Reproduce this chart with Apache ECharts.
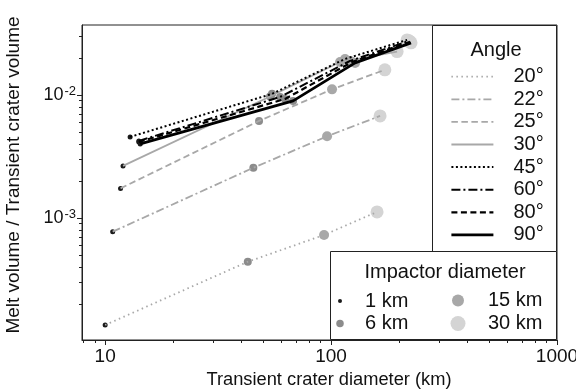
<!DOCTYPE html>
<html>
<head>
<meta charset="utf-8">
<script src="https://cdn.jsdelivr.net/npm/echarts@6/dist/echarts.min.js"></script>
<style>
  * { margin: 0; padding: 0; }
  body { background: #fff; }
  #chart { width: 576px; height: 391px; }
</style>
</head>
<body>
<div id="chart"></div>
<script>
// impact angles and impactor diameters
const angles = [20, 22, 25, 30, 45, 60, 80, 90];
const impactorNames = ['1 km', '6 km', '15 km', '30 km'];

// transient crater diameter (km), one value per impactor size
const diam20 = [10.0, 42.8, 93.1, 159.8];
const diam22 = [10.8, 45.3, 96.0, 164.8];
const diam25 = [11.7, 48.0, 101, 173];
const diam30 = [12.0, 53.7, 109.6, 196];
const diam45 = [12.9, 54.8, 115.3, 217];
const diam60 = [14.1, 59.5, 121.4, 221.5];
const diam80 = [14.1, 62.6, 123.9, 223.7];
const diam90 = [14.3, 67.9, 127.7, 225.9];

// melt volume / transient crater volume
const ratio20 = [1.35e-4, 4.41e-4, 7.28e-4, 1.12e-3];
const ratio22 = [7.74e-4, 2.56e-3, 4.61e-3, 6.75e-3];
const ratio25 = [1.74e-3, 6.15e-3, 1.11e-2, 1.60e-2];
const ratio30 = [2.65e-3, 9.72e-3, 1.85e-2, 2.25e-2];
const ratio45 = [4.56e-3, 1.02e-2, 1.96e-2, 2.80e-2];
const ratio60 = [4.23e-3, 9.63e-3, 1.89e-2, 2.75e-2];
const ratio80 = [4.15e-3, 9.28e-3, 1.85e-2, 2.70e-2];
const ratio90 = [4.00e-3, 8.94e-3, 1.82e-2, 2.65e-2];

// axis ticks
const xMajorTicks = [10, 100, 1000];
const xMinorTicks = [8, 9, 20, 30, 40, 50, 60, 70, 80, 90, 200, 300, 400, 500, 600, 700, 800, 900];
const yMajorTicks = [0.001, 0.01];
const yMinorTicks = [0.0002, 0.0003, 0.0004, 0.0005, 0.0006, 0.0007, 0.0008, 0.0009,
  0.002, 0.003, 0.004, 0.005, 0.006, 0.007, 0.008, 0.009, 0.02, 0.03];

const diamByAngle = [diam20, diam22, diam25, diam30, diam45, diam60, diam80, diam90];
const ratioByAngle = [ratio20, ratio22, ratio25, ratio30, ratio45, ratio60, ratio80, ratio90];

const FONT = '"Liberation Sans", Arial, Helvetica, sans-serif';
const INK = '#111';
const LIGHT = '#a8a8a8';

const X_MIN = 7.9, X_MAX = 1000;
const Y_MIN = 1.02e-4, Y_MAX = 0.037;

// line style per angle (grey for shallow, black for steep)
const angleStyles = [
  { color: LIGHT, width: 1.8, type: [1.5, 3.5] },
  { color: LIGHT, width: 1.8, type: [8, 3, 2, 3] },
  { color: LIGHT, width: 1.8, type: [6.5, 3.5] },
  { color: LIGHT, width: 1.8, type: 'solid' },
  { color: '#000', width: 2, type: [2, 2.5] },
  { color: '#000', width: 2, type: [9, 3, 2, 3] },
  { color: '#000', width: 2.2, type: [6, 3.5] },
  { color: '#000', width: 2.8, type: 'solid' },
];

// marker style per impactor size
const markerColors = ['#1a1a1a', '#8c8c8c', '#a8a8a8', '#d4d4d4'];
const markerSizes = [5, 8, 10, 13];
const legendSizes = [4, 7.5, 12, 15];
const legendCenters = [[340, 301], [340, 323.5], [458, 300.5], [458, 323.5]];
const legendPads = [10, 10, 15, 15];

const chart = echarts.init(document.getElementById('chart'), null, { renderer: 'canvas' });

const lineSeries = angles.map((a, k) => ({
  name: a + '°',
  type: 'line',
  data: diamByAngle[k].map((d, i) => [d, ratioByAngle[k][i]]),
  symbol: 'none',
  itemStyle: { color: angleStyles[k].color },
  lineStyle: angleStyles[k],
  z: 3,
}));

const scatterSeries = impactorNames.map((name, i) => ({
  name: name,
  type: 'scatter',
  data: angles.map((a, k) => [diamByAngle[k][i], ratioByAngle[k][i]]),
  symbolSize: markerSizes[i],
  itemStyle: { color: markerColors[i], opacity: 1 },
  z: 2,
}));

const impactorLegends = impactorNames.map((name, i) => ({
  data: [{ name: name, icon: 'circle' }],
  left: legendCenters[i][0] - legendSizes[i] / 2,
  top: legendCenters[i][1] - 10,
  padding: 0,
  itemWidth: 20,
  itemHeight: legendSizes[i],
  selectedMode: false,
  textStyle: { fontSize: 20, lineHeight: 20, color: INK, fontFamily: FONT, padding: [0, 0, 0, legendPads[i]] },
}));

const option = {
  animation: false,
  backgroundColor: '#fff',
  textStyle: { fontFamily: FONT },
  grid: {
    left: 82, top: 25, width: 475, height: 315,
    show: true, borderColor: '#222', borderWidth: 1,
    containLabel: false, outerBoundsMode: 'none',
  },
  legend: [
    {
      data: angles.map(a => a + '°'),
      orient: 'vertical',
      left: 450, top: 66.7,
      padding: 0,
      itemWidth: 42, itemHeight: 16, itemGap: 2.6,
      selectedMode: false,
      itemStyle: { opacity: 0 },
      lineStyle: { width: 'inherit' },
      textStyle: { fontSize: 20, lineHeight: 20, color: INK, fontFamily: FONT, padding: [0, 0, 0, 15] },
    },
    ...impactorLegends,
  ],
  graphic: [
    { type: 'rect', z: 0, shape: { x: 432.5, y: 25.5, width: 124, height: 226 }, style: { fill: '#fff', stroke: '#222', lineWidth: 1 } },
    { type: 'rect', z: 0, shape: { x: 330.5, y: 251.5, width: 226, height: 88 }, style: { fill: '#fff', stroke: '#222', lineWidth: 1 } },
    { type: 'text', z: 5, x: 496, y: 50, style: { text: 'Angle', fontSize: 20, fontFamily: FONT, fill: INK, align: 'center', verticalAlign: 'middle' } },
    { type: 'text', z: 5, x: 445, y: 272, style: { text: 'Impactor diameter', fontSize: 20, fontFamily: FONT, fill: INK, align: 'center', verticalAlign: 'middle' } },
  ],
  xAxis: [
    {
      type: 'log', min: X_MIN, max: X_MAX,
      name: 'Transient crater diameter (km)',
      nameLocation: 'middle', nameGap: 29,
      nameTextStyle: { fontSize: 18.3, color: INK, fontFamily: FONT, padding: [0, 0, 0, 19] },
      axisLine: { show: true, lineStyle: { color: '#222', width: 1 } },
      axisTick: { show: true, length: 5, customValues: xMajorTicks, lineStyle: { color: '#222' } },
      axisLabel: {
        customValues: xMajorTicks, fontSize: 19, margin: 7, color: INK, fontFamily: FONT,
        formatter: v => String(Math.round(v)),
      },
      splitLine: { show: false },
      minorTick: { show: false },
    },
    {
      type: 'log', min: X_MIN, max: X_MAX, position: 'bottom',
      axisLine: { show: false },
      axisTick: { show: true, length: 3, customValues: xMinorTicks, lineStyle: { color: '#222' } },
      axisLabel: { show: false },
      splitLine: { show: false },
    },
  ],
  yAxis: [
    {
      type: 'log', min: Y_MIN, max: Y_MAX,
      name: 'Melt volume / Transient crater volume',
      nameLocation: 'middle', nameGap: 59,
      nameTextStyle: { fontSize: 19, color: INK, fontFamily: FONT, padding: [0, 0, 0, 15] },
      axisLine: { show: true, lineStyle: { color: '#222', width: 1 } },
      axisTick: { show: true, length: 5, customValues: yMajorTicks, lineStyle: { color: '#222' } },
      axisLabel: {
        customValues: yMajorTicks, margin: 6,
        formatter: v => '{b|10}{s|' + Math.round(Math.log10(v)) + '}',
        rich: {
          b: { fontSize: 18, color: INK, fontFamily: FONT },
          s: { fontSize: 13, color: INK, fontFamily: FONT, padding: [0, 0, 8, 1] },
        },
      },
      splitLine: { show: false },
      minorTick: { show: false },
    },
    {
      type: 'log', min: Y_MIN, max: Y_MAX, position: 'left',
      axisLine: { show: false },
      axisTick: { show: true, length: 3, customValues: yMinorTicks, lineStyle: { color: '#222' } },
      axisLabel: { show: false },
      splitLine: { show: false },
    },
  ],
  series: [...scatterSeries, ...lineSeries],
};

chart.setOption(option);
</script>
</body>
</html>
